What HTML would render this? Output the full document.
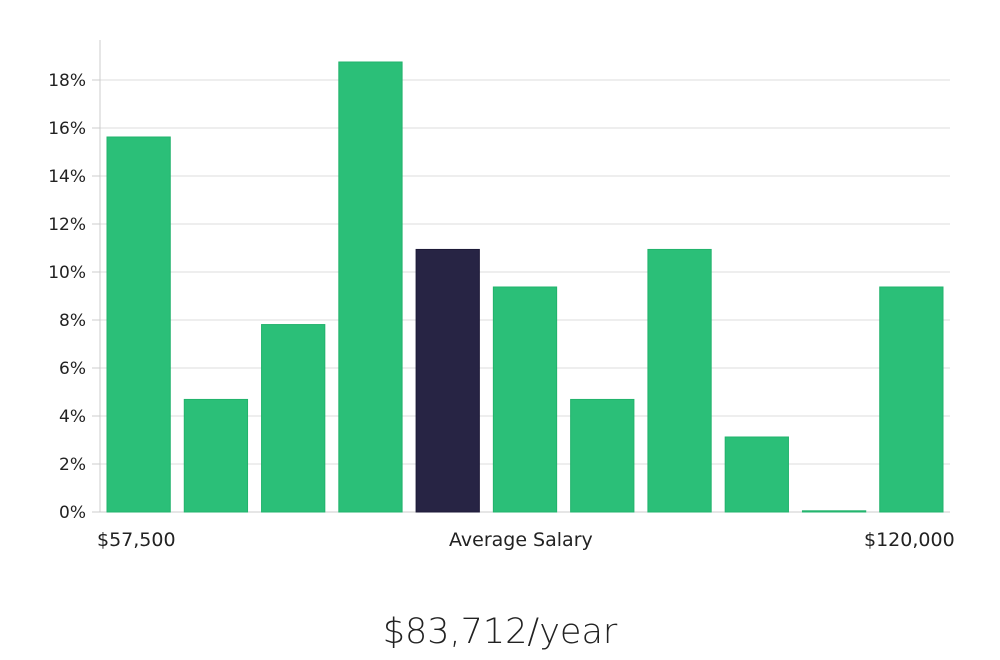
<!DOCTYPE html>
<html><head><meta charset="utf-8"><style>
body{margin:0;background:#fff;}
svg{display:block;font-family:"DejaVu Sans","Liberation Sans",sans-serif;}
</style></head><body>
<svg id="c" width="1000" height="660"></svg>
<script>
const categories=["b1","b2","b3","b4","b5","b6","b7","b8","b9","b10","b11"];
const values=[15.625,4.69,7.81,18.75,10.94,9.375,4.69,10.94,3.125,0.05,9.375];
const highlight=[false,false,false,false,true,false,false,false,false,false,false];
const yTicks=[0,2,4,6,8,10,12,14,16,18];
const NS="http://www.w3.org/2000/svg";
const svgEl=document.getElementById('c');
const x0=100,x1=950,y0=512,pxPer=24,plotTop=40;
const yS=v=>y0-v*pxPer;
const step=(x1-x0)/categories.length;
const xb=i=>x0+i*step+7;
function mk(t,a){const e=document.createElementNS(NS,t);for(const k in a)e.setAttribute(k,a[k]);svgEl.appendChild(e);return e;}
yTicks.forEach(t=>{
 const g=mk('line',{x1:x0,x2:x1,y1:yS(t),y2:yS(t),stroke:'#dcdcdc','stroke-width':1});
 
 
 const tk=mk('line',{x1:x0-8,x2:x0,y1:yS(t),y2:yS(t),stroke:'#ccc','stroke-width':1});
 
 
 const tx=mk('text',{x:x0-14,y:yS(t)+6,'text-anchor':'end','font-size':17,fill:'#222'});
 tx.textContent=t+'%';
 
 
});
const ax=mk('line',{x1:x0,x2:x0,y1:plotTop,y2:y0,stroke:'#ccc'});


const bx=mk('line',{x1:x0,x2:x1,y1:y0,y2:y0,stroke:'#ccc'});


values.forEach((v,i)=>{
 const r=mk('rect',{x:xb(i),y:yS(v),width:step-14,height:v*pxPer,fill:highlight[i]?'#272444':'#2bbf78',stroke:highlight[i]?'#1d1a38':'#22b36c','stroke-width':1});
 
 
});
</script>
<div style="position:absolute;left:0;top:0;width:1000px;height:660px;pointer-events:none;font-family:'DejaVu Sans','Liberation Sans',sans-serif;">
<div style="position:absolute;left:97px;top:529px;font-size:19px;color:#222;">$57,500</div>
<div style="position:absolute;left:449px;top:529px;font-size:19px;color:#222;">Average Salary</div>
<div style="position:absolute;left:864px;top:529px;font-size:19px;color:#222;">$120,000</div>
<div style="position:absolute;left:0;width:1000px;top:612px;text-align:center;font-size:35px;color:#222;font-weight:300;">$83,712/year</div>
</div>
</body></html>
